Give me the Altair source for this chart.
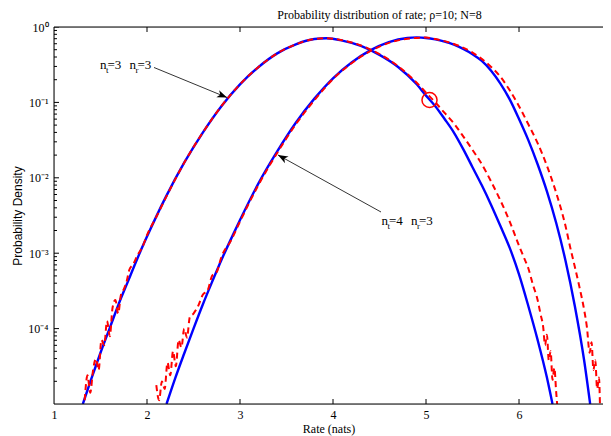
import json
import altair as alt
import pandas as pd

SERIF = "Liberation Serif"
SANS = "Liberation Sans"

# ---- curves: x = rate (nats), lg = log10(probability density) ----
# analytic curve, n_t=3 n_r=3 (blue, solid)
b1_x = [1.31, 1.40, 1.50, 1.60, 1.70, 1.80, 1.90, 2.00, 2.20, 2.40, 2.60, 2.80, 3.00, 3.20,
        3.40, 3.60, 3.80, 3.93, 4.10, 4.30, 4.50, 4.70, 4.90, 5.00, 5.10, 5.20, 5.30, 5.40,
        5.50, 5.60, 5.70, 5.80, 5.90, 6.00, 6.10, 6.20, 6.30, 6.36]
b1_lg = [-5.00, -4.67, -4.32, -3.99, -3.66, -3.36, -3.06, -2.78, -2.26, -1.80, -1.40, -1.05,
         -0.76, -0.53, -0.35, -0.23, -0.16, -0.15, -0.18, -0.25, -0.37, -0.53, -0.76, -0.91,
         -1.05, -1.22, -1.40, -1.62, -1.86, -2.10, -2.36, -2.64, -2.93, -3.28, -3.70, -4.15,
         -4.65, -5.00]

# analytic curve, n_t=4 n_r=3 (blue, solid)
b2_x = [2.21, 2.30, 2.40, 2.50, 2.60, 2.70, 2.80, 2.90, 3.00, 3.20, 3.40, 3.60, 3.80, 4.00,
        4.20, 4.40, 4.60, 4.80, 4.90, 5.00, 5.10, 5.20, 5.30, 5.40, 5.50, 5.60, 5.70, 5.80,
        5.90, 6.00, 6.10, 6.20, 6.30, 6.40, 6.50, 6.60, 6.70, 6.765]
b2_lg = [-5.00, -4.67, -4.33, -4.00, -3.68, -3.38, -3.09, -2.82, -2.56, -2.07, -1.65, -1.27,
         -0.95, -0.68, -0.47, -0.31, -0.20, -0.145, -0.138, -0.145, -0.165, -0.195, -0.235,
         -0.29, -0.36, -0.45, -0.58, -0.75, -0.96, -1.22, -1.50, -1.82, -2.18, -2.60, -3.10,
         -3.70, -4.42, -5.00]

# simulated histogram, n_t=3 n_r=3 (red, dashed)
r1_x = [1.33, 1.36, 1.39, 1.42, 1.45, 1.48, 1.51, 1.54, 1.57, 1.60, 1.63, 1.66, 1.69, 1.72,
        1.75, 1.78, 1.81, 1.85, 1.90, 1.95, 2.00, 2.10, 2.20, 2.40, 2.60, 2.80, 3.00, 3.20,
        3.40, 3.60, 3.80, 3.93, 4.10, 4.30, 4.50, 4.70, 4.90, 5.00, 5.10, 5.20, 5.30, 5.40,
        5.50, 5.60, 5.70, 5.80, 5.90, 6.00, 6.05, 6.10, 6.15, 6.20, 6.23, 6.26, 6.28, 6.30,
        6.32, 6.34, 6.36, 6.38, 6.40, 6.41]
r1_lg = [-4.95, -4.62, -4.85, -4.55, -4.40, -4.55, -4.15, -4.22, -3.90, -4.10, -3.72, -3.62,
         -3.80, -3.55, -3.48, -3.38, -3.22, -3.15, -3.02, -2.92, -2.76, -2.52, -2.27, -1.80,
         -1.40, -1.05, -0.76, -0.53, -0.35, -0.23, -0.16, -0.15, -0.175, -0.245, -0.36, -0.52,
         -0.74, -0.87, -1.00, -1.14, -1.28, -1.45, -1.63, -1.82, -2.05, -2.30, -2.58, -2.90,
         -3.05, -3.20, -3.42, -3.62, -3.80, -3.98, -4.22, -4.08, -4.42, -4.30, -4.68, -4.52,
         -4.85, -5.00]

# simulated histogram, n_t=4 n_r=3 (red, dashed)
r2_x = [2.10, 2.13, 2.16, 2.19, 2.22, 2.25, 2.28, 2.31, 2.34, 2.37, 2.40, 2.43, 2.46, 2.50,
        2.55, 2.60, 2.65, 2.70, 2.75, 2.80, 2.90, 3.00, 3.20, 3.40, 3.60, 3.80, 4.00, 4.20,
        4.40, 4.60, 4.80, 5.00, 5.10, 5.30, 5.50, 5.70, 5.80, 5.90, 6.00, 6.10, 6.20, 6.30,
        6.40, 6.50, 6.55, 6.60, 6.65, 6.70, 6.73, 6.76, 6.78, 6.80, 6.82, 6.84, 6.86, 6.87]
r2_lg = [-4.75, -4.95, -4.70, -4.80, -4.45, -4.62, -4.30, -4.50, -4.15, -4.25, -4.00, -4.12,
         -3.85, -3.80, -3.70, -3.55, -3.50, -3.30, -3.25, -3.05, -2.84, -2.58, -2.09, -1.67,
         -1.29, -0.97, -0.69, -0.48, -0.32, -0.21, -0.155, -0.14, -0.16, -0.225, -0.34, -0.53,
         -0.66, -0.84, -1.05, -1.29, -1.54, -1.84, -2.20, -2.64, -2.92, -3.18, -3.45, -3.75,
         -3.98, -4.32, -4.18, -4.55, -4.42, -4.80, -4.65, -5.00]

# ---- axes ----
x_ticks = [1, 2, 3, 4, 5, 6]
x_inner_ticks = [2, 3, 4, 5, 6]
x_left = [1]
y_edges = [1e-5, 1.0]
y_major = [1e-4, 1e-3, 1e-2, 1e-1, 1.0]
y_labels = ["10\u207b\u2074", "10\u207b\u00b3", "10\u207b\u00b2", "10\u207b\u00b9", "10\u2070"]
y_minor = [m * 10.0 ** e for e in range(-5, 0) for m in range(2, 10)]

# ---- annotations (data coordinates) ----
ann_x = [1.4946, 4.5215]
ann_y = [0.2773, 0.002366]
ann_nt = ["3", "4"]
ann_nr = ["3", "3"]
arrow1 = {"x": [2.0753, 2.8602], "y": [0.2904, 0.1161]}
arrow2 = {"x": [4.5161, 3.4086], "y": [0.003518, 0.02006]}
marker = {"x": [5.0376], "y": [0.1076]}


def curve(xs, lgs, name):
    return pd.DataFrame({"x": xs, "y": [10.0 ** v for v in lgs], "s": name})


xs = alt.Scale(domain=[1, 6.903], nice=False, zero=False)
ys = alt.Scale(type="log", domain=[1e-5, 1], nice=False)

label_expr = json.dumps(y_labels, ensure_ascii=False) + "[round(log(datum.value)/LN10)+4]"

xaxis = alt.Axis(values=x_ticks, ticks=False, tickSize=0, domain=False, grid=False,
                 labelFont=SERIF, labelFontSize=12, labelColor="black", labelPadding=5,
                 labelFlush=False, labelOverlap=False,
                 title="Rate (nats)", titleFont=SERIF, titleFontSize=12,
                 titleFontWeight="normal", titleColor="black", titleY=19.5,
                 titleBaseline="top")
yaxis = alt.Axis(values=y_major, labelExpr=label_expr, ticks=False, tickSize=0,
                 domain=False, grid=False, labelFont=SERIF, labelFontSize=12,
                 labelColor="black", labelPadding=6, labelFlush=False, labelOverlap=False,
                 title="Probability Density", titleFont=SANS, titleFontSize=12,
                 titleFontWeight="normal", titleColor="black", titleX=-37, titleY=188.5,
                 titleBaseline="middle", titleAngle=270)

X = alt.X("x:Q", scale=xs, axis=xaxis)
Y = alt.Y("y:Q", scale=ys, axis=yaxis)

blue = pd.concat([curve(b1_x, b1_lg, "b1"), curve(b2_x, b2_lg, "b2")])
red = pd.concat([curve(r1_x, r1_lg, "r1"), curve(r2_x, r2_lg, "r2")])

blue_layer = alt.Chart(blue).mark_line(color="#0000ff", strokeWidth=2.4, clip=True,
                                       interpolate="monotone").encode(x=X, y=Y, detail="s:N")
red_layer = alt.Chart(red).mark_line(color="#ff0000", strokeWidth=2, clip=True,
                                     interpolate="monotone",
                                     strokeDash=[6, 4]).encode(x=X, y=Y, detail="s:N")

# frame: top, bottom and left edges (the right edge lies just outside the picture)
frame_h = alt.Chart(pd.DataFrame({"y": y_edges})).mark_rule(color="black",
                                                            strokeWidth=1).encode(y=Y)
frame_v = alt.Chart(pd.DataFrame({"x": x_left})).mark_rule(color="black",
                                                           strokeWidth=1).encode(x=X)

# inward ticks: centred tick marks clipped by the plot frame
ymaj_df = pd.DataFrame([{"x": xe, "y": v} for xe in x_left for v in y_major])
ymin_df = pd.DataFrame([{"x": xe, "y": v} for xe in x_left for v in y_minor])
xt_df = pd.DataFrame([{"x": v, "y": ye} for ye in y_edges for v in x_inner_ticks])

ymaj_layer = alt.Chart(ymaj_df).mark_tick(orient="horizontal", size=10, thickness=1,
                                          color="black", opacity=1, clip=True).encode(x=X, y=Y)
ymin_layer = alt.Chart(ymin_df).mark_tick(orient="horizontal", size=6, thickness=1,
                                          color="black", opacity=1, clip=True).encode(x=X, y=Y)
xt_layer = alt.Chart(xt_df).mark_tick(orient="vertical", size=10, thickness=1,
                                      color="black", opacity=1, clip=True).encode(x=X, y=Y)

# arrows
a1 = pd.DataFrame({"x": arrow1["x"], "y": arrow1["y"], "g": "a1"})
a2 = pd.DataFrame({"x": arrow2["x"], "y": arrow2["y"], "g": "a2"})
arrow_lines = alt.Chart(pd.concat([a1, a2])).mark_line(color="black", strokeWidth=0.8).encode(
    x=X, y=Y, detail="g:N")
HEAD = "M0,0L-2,-0.75L-1.45,0L-2,0.75Z"
head1 = alt.Chart(a1.iloc[[1]]).mark_point(shape=HEAD, size=100, filled=True, color="black",
                                           opacity=1, strokeWidth=0, angle=22).encode(x=X, y=Y)
head2 = alt.Chart(a2.iloc[[1]]).mark_point(shape=HEAD, size=100, filled=True, color="black",
                                           opacity=1, strokeWidth=0, angle=209).encode(x=X, y=Y)

# red circle marker
circ = alt.Chart(pd.DataFrame(marker)).mark_point(shape="circle", size=227, filled=False,
                                                  color="#ff0000", strokeWidth=1.5,
                                                  opacity=1).encode(x=X, y=Y)

# text labels n_t=.. n_r=..
ann = pd.DataFrame({"x": ann_x, "y": ann_y, "nt": ann_nt, "nr": ann_nr})
ann["n"] = "n"
ann["t"] = "t"
ann["r"] = "r"
ann["eq1"] = "=" + ann["nt"]
ann["eq2"] = "=" + ann["nr"]
pieces = [("n", 0, 0, 13), ("t", 6, 4, 9), ("eq1", 7.5, 0, 13),
          ("n", 29.5, 0, 13), ("r", 35.5, 4, 9), ("eq2", 37.5, 0, 13)]
text_layers = []
for field, ddx, ddy, fs in pieces:
    text_layers.append(
        alt.Chart(ann).mark_text(align="left", baseline="alphabetic", dx=ddx, dy=ddy,
                                 font=SERIF, fontSize=fs, color="black").encode(
            x=X, y=Y, text=f"{field}:N"))

chart = alt.layer(blue_layer, red_layer, frame_h, frame_v, ymaj_layer, ymin_layer, xt_layer,
                  arrow_lines, head1, head2, circ, *text_layers).properties(
    width=549, height=377,
    autosize=alt.AutoSizeParams(type="none"),
    padding={"left": 46, "top": 19, "right": 0, "bottom": 32},
    title=alt.TitleParams("Probability distribution of rate; \u03c1=10; N=8", font=SERIF,
                          fontSize=12, fontWeight="normal", color="black", anchor="middle",
                          frame="group", dx=51, dy=14, offset=4, baseline="alphabetic"),
).configure_view(stroke=None).configure(background="white")

chart.save("out.html", embed_options={"renderer": "svg", "actions": False})
